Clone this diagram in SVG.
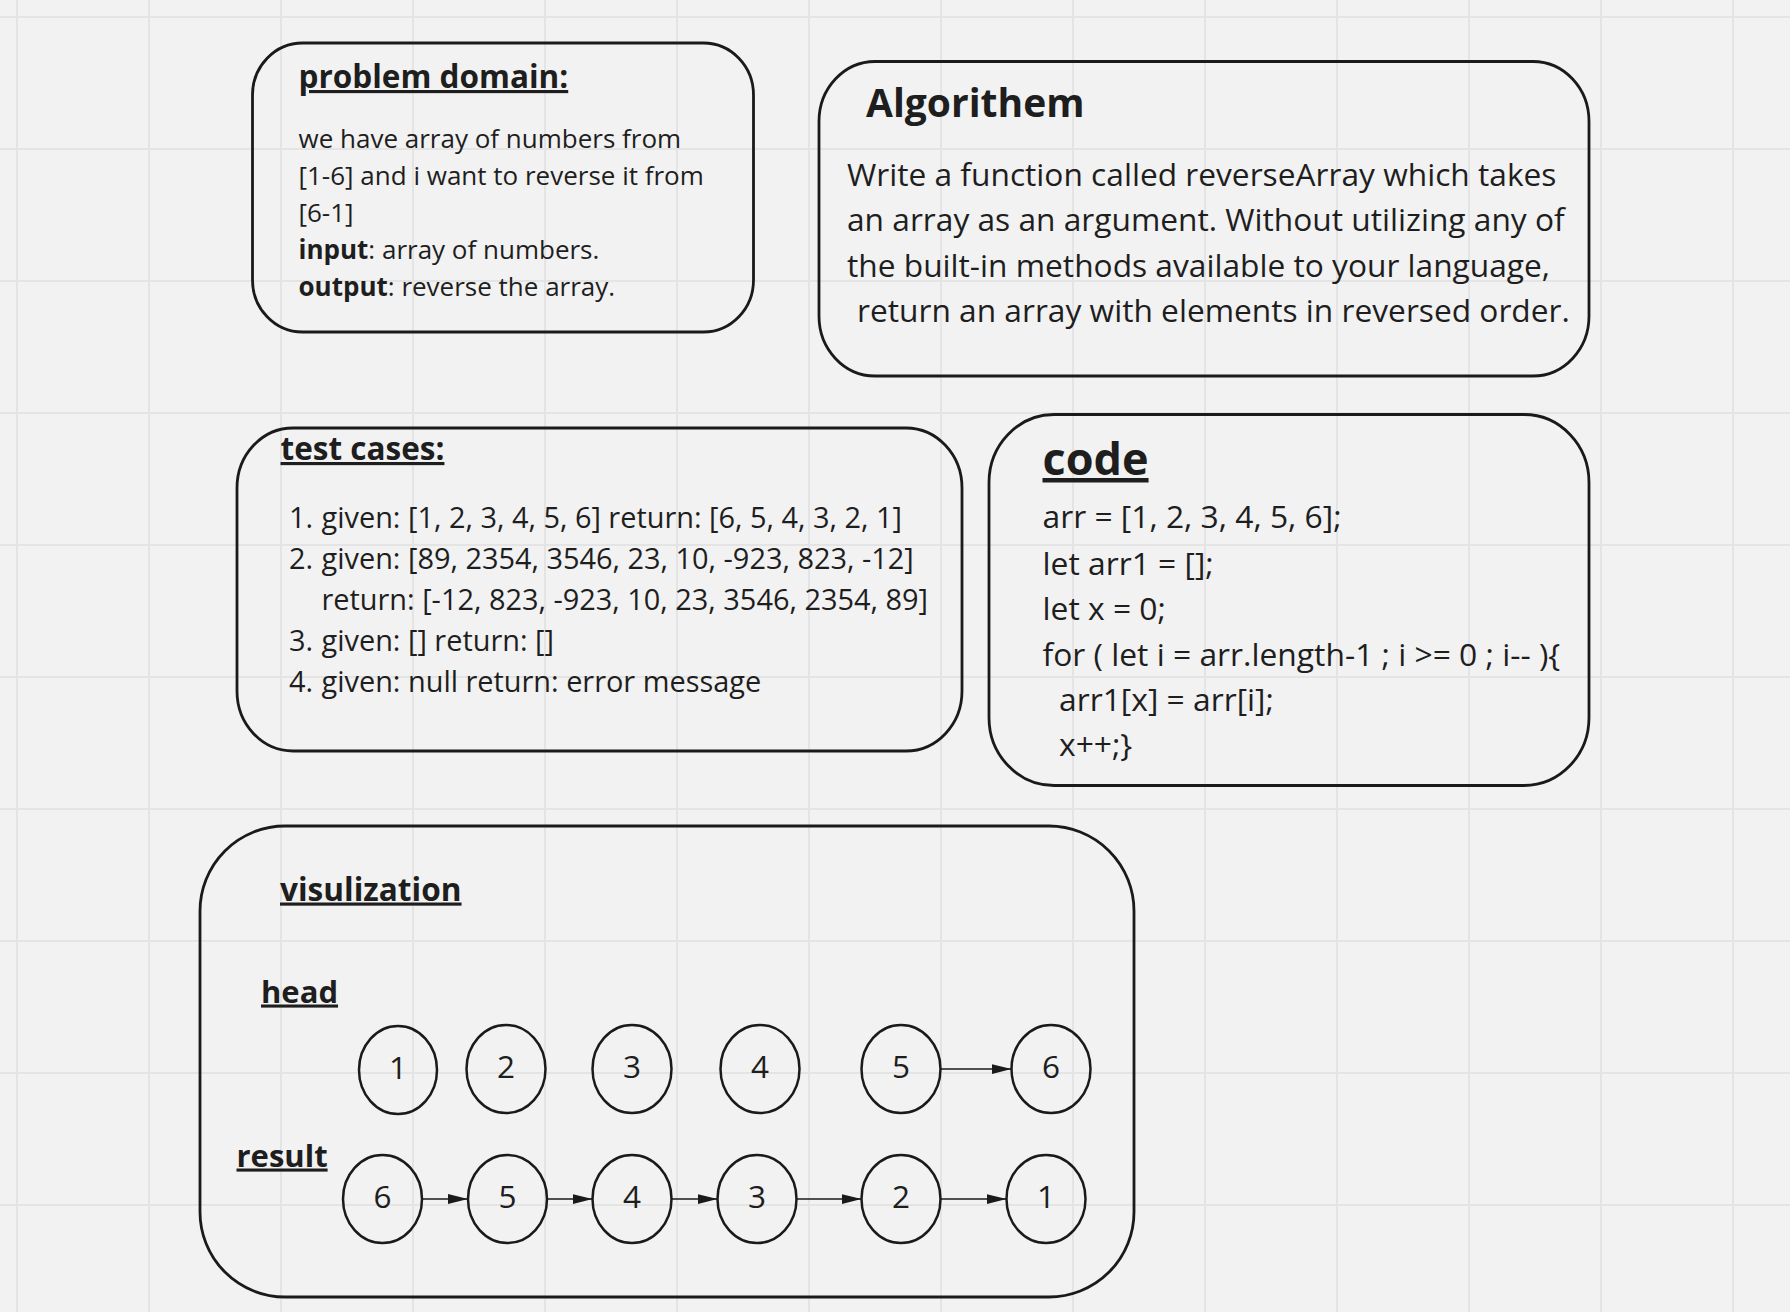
<svg xmlns="http://www.w3.org/2000/svg" width="1790" height="1312" viewBox="0 0 1790 1312">
<defs>
<style>
.box{fill:none;stroke:#1a1a1a;stroke-width:2.8}
.node{fill:none;stroke:#1a1a1a;stroke-width:2.5}
.t{font-family:"Open Sans","Noto Sans","DejaVu Sans",sans-serif;fill:#1e1e1e}
.h{font-weight:700;text-decoration:underline}
.b{font-weight:700}
.num{font-size:31.5px;text-anchor:middle}
.grid{stroke:#e4e4e4;stroke-width:2}
.edge{stroke:#1a1a1a;stroke-width:1.6;fill:none;marker-end:url(#arr)}
</style>
<marker id="arr" markerUnits="userSpaceOnUse" markerWidth="20" markerHeight="10" refX="20" refY="5" orient="auto">
<path d="M0,0 L20,5 L0,10 z" fill="#1a1a1a"/>
</marker>
</defs>
<rect x="0" y="0" width="1790" height="1312" fill="#f2f2f2"/>
<g id="grid" class="grid">
<line x1="17" y1="0" x2="17" y2="1312"/><line x1="149" y1="0" x2="149" y2="1312"/><line x1="281" y1="0" x2="281" y2="1312"/><line x1="413" y1="0" x2="413" y2="1312"/><line x1="545" y1="0" x2="545" y2="1312"/><line x1="677" y1="0" x2="677" y2="1312"/><line x1="809" y1="0" x2="809" y2="1312"/><line x1="941" y1="0" x2="941" y2="1312"/><line x1="1073" y1="0" x2="1073" y2="1312"/><line x1="1205" y1="0" x2="1205" y2="1312"/><line x1="1337" y1="0" x2="1337" y2="1312"/><line x1="1469" y1="0" x2="1469" y2="1312"/><line x1="1601" y1="0" x2="1601" y2="1312"/><line x1="1733" y1="0" x2="1733" y2="1312"/>
<line x1="0" y1="17" x2="1790" y2="17"/><line x1="0" y1="149" x2="1790" y2="149"/><line x1="0" y1="281" x2="1790" y2="281"/><line x1="0" y1="413" x2="1790" y2="413"/><line x1="0" y1="545" x2="1790" y2="545"/><line x1="0" y1="677" x2="1790" y2="677"/><line x1="0" y1="809" x2="1790" y2="809"/><line x1="0" y1="941" x2="1790" y2="941"/><line x1="0" y1="1073" x2="1790" y2="1073"/><line x1="0" y1="1205" x2="1790" y2="1205"/>
</g>

<g id="problem-domain">
<rect class="box" x="252.5" y="43" width="501" height="289" rx="50" ry="52"/>
<text class="t h" x="298.5" y="88" font-size="31.5">problem domain:</text>
<text class="t" font-size="26">
<tspan x="298.5" y="148">we have array of numbers from</tspan>
<tspan x="298.5" y="185">[1-6] and i want to reverse it from</tspan>
<tspan x="298.5" y="222">[6-1]</tspan>
<tspan x="298.5" y="259"><tspan class="b">input</tspan>: array of numbers.</tspan>
<tspan x="298.5" y="296"><tspan class="b">output</tspan>: reverse the array.</tspan>
</text>
</g>

<g id="algorithem">
<rect class="box" x="819" y="61.5" width="770" height="314.5" rx="56" ry="60"/>
<text class="t b" x="866" y="117" font-size="39">Algorithem</text>
<text class="t" font-size="31.7">
<tspan x="847" y="185.5">Write a function called reverseArray which takes</tspan>
<tspan x="847" y="231">an array as an argument. Without utilizing any of</tspan>
<tspan x="847" y="276.5">the built-in methods available to your language,</tspan>
<tspan x="857" y="322">return an array with elements in reversed order.</tspan>
</text>
</g>

<g id="test-cases">
<rect class="box" x="237" y="428" width="725" height="323" rx="56" ry="60"/>
<text class="t h" x="280.5" y="460" font-size="31.5">test cases:</text>
<text class="t" font-size="28.9">
<tspan x="289" y="528">1.</tspan><tspan x="321.5" y="528">given: [1, 2, 3, 4, 5, 6] return: [6, 5, 4, 3, 2, 1]</tspan>
<tspan x="289" y="569">2.</tspan><tspan x="321.5" y="569">given: [89, 2354, 3546, 23, 10, -923, 823, -12]</tspan>
<tspan x="321.5" y="610">return: [-12, 823, -923, 10, 23, 3546, 2354, 89]</tspan>
<tspan x="289" y="651">3.</tspan><tspan x="321.5" y="651">given: [] return: []</tspan>
<tspan x="289" y="692">4.</tspan><tspan x="321.5" y="692">given: null return: error message</tspan>
</text>
</g>

<g id="code">
<rect class="box" x="989" y="414.5" width="600" height="371" rx="65" ry="68"/>
<text class="t h" x="1042.5" y="475" font-size="45">code</text>
<text class="t" font-size="31.8">
<tspan x="1042.5" y="528">arr = [1, 2, 3, 4, 5, 6];</tspan>
<tspan x="1042.5" y="574.5">let arr1 = [];</tspan>
<tspan x="1042.5" y="620">let x = 0;</tspan>
<tspan x="1042.5" y="665.5">for ( let i = arr.length-1 ; i &gt;= 0 ; i-- ){</tspan>
<tspan x="1059" y="711">arr1[x] = arr[i];</tspan>
<tspan x="1059" y="756">x++;}</tspan>
</text>
</g>

<g id="visualization">
<rect class="box" x="200" y="826" width="934" height="471" rx="85" ry="85"/>
<text class="t h" x="280" y="900.5" font-size="31.6">visulization</text>
<text class="t h" x="261" y="1002.5" font-size="31">head</text>
<text class="t h" x="236.5" y="1166.5" font-size="31">result</text>
</g>

<g id="head-1"><ellipse class="node" cx="398" cy="1070" rx="39" ry="44"/><text class="t num" x="398" y="1079">1</text></g>
<g id="head-2"><ellipse class="node" cx="506" cy="1069" rx="39.5" ry="44"/><text class="t num" x="506" y="1078">2</text></g>
<g id="head-3"><ellipse class="node" cx="632" cy="1069" rx="39.5" ry="44"/><text class="t num" x="632" y="1078">3</text></g>
<g id="head-4"><ellipse class="node" cx="760" cy="1069" rx="39.5" ry="44"/><text class="t num" x="760" y="1078">4</text></g>
<g id="head-5"><ellipse class="node" cx="901" cy="1069" rx="39.5" ry="44"/><text class="t num" x="901" y="1078">5</text></g>
<g id="head-6"><ellipse class="node" cx="1051" cy="1069" rx="39.5" ry="44"/><text class="t num" x="1051" y="1078">6</text></g>

<g id="result-6"><ellipse class="node" cx="382.5" cy="1199" rx="39.5" ry="44"/><text class="t num" x="382.5" y="1208">6</text></g>
<g id="result-5"><ellipse class="node" cx="507.5" cy="1199" rx="39.5" ry="44"/><text class="t num" x="507.5" y="1208">5</text></g>
<g id="result-4"><ellipse class="node" cx="632" cy="1199" rx="39.5" ry="44"/><text class="t num" x="632" y="1208">4</text></g>
<g id="result-3"><ellipse class="node" cx="757" cy="1199" rx="39.5" ry="44"/><text class="t num" x="757" y="1208">3</text></g>
<g id="result-2"><ellipse class="node" cx="901" cy="1199" rx="39.5" ry="44"/><text class="t num" x="901" y="1208">2</text></g>
<g id="result-1"><ellipse class="node" cx="1046" cy="1199" rx="39.5" ry="44"/><text class="t num" x="1046" y="1208">1</text></g>

<g id="connectors">
<line class="edge" x1="940.5" y1="1069" x2="1011.5" y2="1069"/>
<line class="edge" x1="422" y1="1199" x2="468" y2="1199"/>
<line class="edge" x1="547" y1="1199" x2="592.5" y2="1199"/>
<line class="edge" x1="671.5" y1="1199" x2="717.5" y2="1199"/>
<line class="edge" x1="796.5" y1="1199" x2="861.5" y2="1199"/>
<line class="edge" x1="940.5" y1="1199" x2="1006.5" y2="1199"/>
</g>
</svg>
